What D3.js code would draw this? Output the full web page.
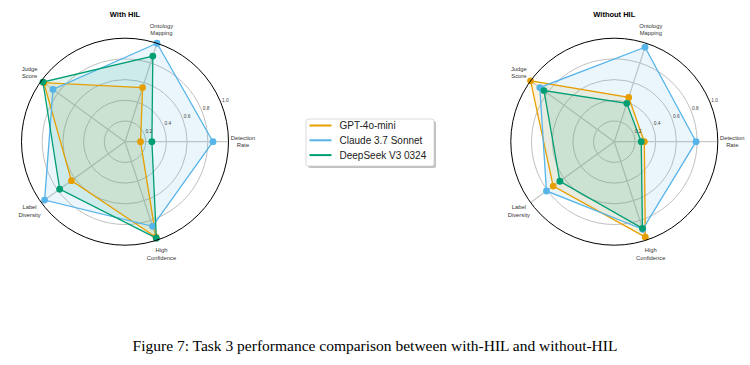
<!DOCTYPE html>
<html><head><meta charset="utf-8">
<script src="https://cdn.jsdelivr.net/npm/d3@7"></script>
<style>html,body{margin:0;padding:0;background:#fff;}svg{display:block;}</style>
</head><body>
<svg id="c" width="750" height="365"></svg>
<script>
const categories = ["Detection Rate","Ontology Mapping","Judge Score","Label Diversity","High Confidence"];
const categoryLines = [["Detection","Rate"],["Ontology","Mapping"],["Judge","Score"],["Label","Diversity"],["High","Confidence"]];
const seriesNames = ["GPT-4o-mini","Claude 3.7 Sonnet","DeepSeek V3 0324"];
const seriesColors = ["#E69F00","#56B4E9","#009E73"];
const withHIL_gpt = [0.15, 0.55, 0.97, 0.64, 0.97];
const withHIL_claude = [0.85, 1.00, 0.86, 0.96, 0.86];
const withHIL_deepseek = [0.26, 0.87, 0.98, 0.78, 0.98];
const withoutHIL_gpt = [0.29, 0.45, 1.00, 0.73, 0.97];
const withoutHIL_claude = [0.79, 0.96, 0.89, 0.81, 0.89];
const withoutHIL_deepseek = [0.26, 0.39, 0.84, 0.65, 0.88];
const radialTicks = [0.2, 0.4, 0.6, 0.8, 1.0];
const panels = [
  {title:"With HIL", cx:125, series:[withHIL_gpt, withHIL_claude, withHIL_deepseek]},
  {title:"Without HIL", cx:614.3, series:[withoutHIL_gpt, withoutHIL_claude, withoutHIL_deepseek]}
];
const caption = "Figure 7: Task 3 performance comparison between with-HIL and without-HIL";

const svg = d3.select("#c");
const R = 103.5, cy = 141.7;
const r = d3.scaleLinear().domain([0,1]).range([0,R]);
const n = categories.length;
const theta = d3.scaleLinear().domain([0,n]).range([0, 2*Math.PI]);
const d3angle = i => Math.PI/2 - theta(i);
const px = (i, v) => Math.cos(theta(i)) * r(v);
const py = (i, v) => -Math.sin(theta(i)) * r(v);
const font = "'Liberation Sans', Arial, sans-serif";

panels.forEach(p => {
  const g = svg.append("g").attr("transform", `translate(${p.cx},${cy})`);
  g.selectAll("circle.grid").data(radialTicks.slice(0,-1)).enter().append("circle")
    .attr("r", d => r(d)).attr("fill","none").attr("stroke","#b9b9b9").attr("stroke-width",0.9);
  g.selectAll("line.spoke").data(categories).enter().append("line")
    .attr("x1",0).attr("y1",0)
    .attr("x2",(d,i)=>px(i,1.0)).attr("y2",(d,i)=>py(i,1.0))
    .attr("stroke","#c8c8c8").attr("stroke-width",1.2);
  const line = d3.lineRadial().angle((d,i)=>d3angle(i)).radius(d=>r(d)).curve(d3.curveLinearClosed);
  p.series.forEach((vals, s) => {
    g.append("path").attr("d", line(vals)).attr("fill", seriesColors[s]).attr("fill-opacity",0.12).attr("stroke","none");
  });
  p.series.forEach((vals, s) => {
    const sg = g.append("g");
    sg.append("path").attr("d", line(vals)).attr("fill","none").attr("stroke", seriesColors[s]).attr("stroke-width",1.3);
    sg.selectAll("circle").data(vals).enter().append("circle")
      .attr("cx",(d,i)=>px(i,d)).attr("cy",(d,i)=>py(i,d)).attr("r",3.4).attr("fill",seriesColors[s]);
  });
  g.append("circle").attr("r", r(1.0)).attr("fill","none").attr("stroke","#000").attr("stroke-width",1);
  const a = 22.5*Math.PI/180;
  g.selectAll("text.tick").data(radialTicks).enter().append("text")
    .attr("x", d => Math.cos(a)*(r(d)+5)).attr("y", d => -Math.sin(a)*(r(d)+5))
    .attr("text-anchor","middle").attr("dominant-baseline","central")
    .attr("font-family",font).attr("font-size",4.8).attr("fill","#444")
    .text(d => d.toFixed(1));
  categoryLines.forEach((lines, i) => {
    const lx = Math.cos(theta(i))*R*1.14, ly = -Math.sin(theta(i))*R*1.14;
    const t = g.append("text").attr("text-anchor","middle").attr("font-family",font)
      .attr("font-size",5.8).attr("fill","#333");
    lines.forEach((ln, k) => {
      t.append("tspan").attr("x", lx).attr("y", ly + (k - (lines.length-1)/2)*7.4).attr("dominant-baseline","central").text(ln);
    });
  });
  svg.append("text").attr("x", p.cx).attr("y", 16.5).attr("text-anchor","middle")
    .attr("font-family",font).attr("font-weight","bold").attr("font-size",7.5).attr("fill","#000").text(p.title);
});

const lg = svg.append("g");
lg.append("rect").attr("x",308).attr("y",121).attr("width",128).attr("height",47).attr("rx",2).attr("fill","#9a9a9a").attr("opacity",0.6);
lg.append("rect").attr("x",306).attr("y",119).attr("width",128).attr("height",47).attr("rx",2).attr("fill","#fff").attr("stroke","#d0d0d0").attr("stroke-width",0.8);
seriesNames.forEach((nm, s) => {
  const y = 125.5 + s*14.8;
  lg.append("line").attr("x1",309.5).attr("x2",331.5).attr("y1",y).attr("y2",y).attr("stroke",seriesColors[s]).attr("stroke-width",2);
  lg.append("text").attr("x",339.5).attr("y",y).attr("dominant-baseline","central")
    .attr("font-family",font).attr("font-size",10).attr("fill","#222").text(nm);
});

svg.append("text").attr("x",375).attr("y",351).attr("text-anchor","middle")
  .attr("font-family","'Liberation Serif','Times New Roman',serif").attr("font-size",15.5).attr("fill","#000")
  .text(caption);
</script>
</body></html>
